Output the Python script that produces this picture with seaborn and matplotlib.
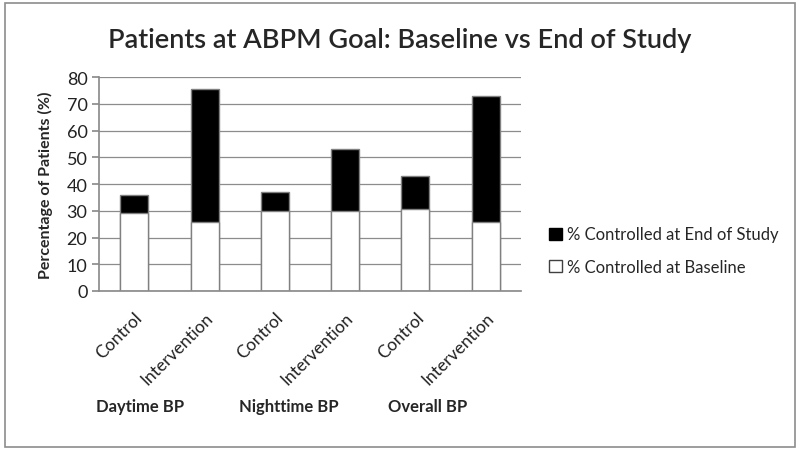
import matplotlib
matplotlib.use("Agg")
import matplotlib.pyplot as plt
import seaborn as sns
import pandas as pd
from matplotlib.patches import Rectangle, Patch
from matplotlib.ticker import MultipleLocator, FixedLocator

categories = ["Control", "Intervention", "Control", "Intervention", "Control", "Intervention"]
groups = ["Daytime BP", "Nighttime BP", "Overall BP"]
baseline = [29, 26, 30, 30, 30.5, 26]
end_study = [36, 75.5, 37, 53, 43, 73]

sns.set_theme(style="white")
plt.rcParams['font.family'] = ['Lato', 'DejaVu Sans']

df = pd.DataFrame({"pos": list(range(len(categories))), "cat": categories,
                   "baseline": baseline, "end": end_study})

fig = plt.figure(figsize=(8, 4.52), dpi=100)
ax = fig.add_axes([0.124, 0.354, 0.527, 0.473])

sns.barplot(data=df, x="pos", y="end", color="black", edgecolor="#808080",
            linewidth=1.0, width=0.4, ax=ax, saturation=1)
sns.barplot(data=df, x="pos", y="baseline", color="white", edgecolor="#808080",
            linewidth=1.0, width=0.4, ax=ax, saturation=1)

ax.set_ylim(0, 80)
ax.set_xlim(-0.5, len(categories) - 0.5)
ax.yaxis.set_major_locator(MultipleLocator(10))
ax.yaxis.grid(True, color="#8c8c8c", linewidth=0.9)
ax.set_axisbelow(True)
for s in ["top", "right"]:
    ax.spines[s].set_visible(False)
ax.spines["left"].set_color("#8c8c8c")
ax.spines["bottom"].set_color("#8c8c8c")

ax.set_xticks(range(len(categories)))
ax.set_xticklabels(categories, rotation=45, ha="right", rotation_mode="anchor",
                   fontsize=12.5, color="#222222")
ax.tick_params(axis="x", which="major", length=0, pad=13)
ax.xaxis.set_minor_locator(FixedLocator([i - 0.5 for i in range(len(categories) + 1)]))
ax.tick_params(axis="x", which="minor", length=5, color="#8c8c8c", direction="out")
ax.tick_params(axis="y", length=5, color="#8c8c8c", labelsize=13, labelcolor="#222222", left=True)
ax.set_xlabel("")
ax.set_ylabel("Percentage of Patients (%)", fontsize=11.5, fontweight="bold", labelpad=10)

group_x = [-0.54, 1.49, 3.61]
for gx, g in zip(group_x, groups):
    ax.text(gx, -0.54, g, transform=ax.get_xaxis_transform(), ha="left", va="center",
            fontsize=12, fontweight="bold")

fig.text(0.5, 0.91, "Patients at ABPM Goal: Baseline vs End of Study", ha="center",
         va="center", fontsize=19.5, fontweight="semibold")

handles = [Patch(facecolor="black", edgecolor="black", label="% Controlled at End of Study"),
           Patch(facecolor="white", edgecolor="#404040", label="% Controlled at Baseline")]
fig.legend(handles=handles, loc="center left", bbox_to_anchor=(0.668, 0.443), frameon=False,
           fontsize=12, handlelength=0.75, handleheight=0.75, handletextpad=0.3,
           labelspacing=1.0)

fig.patches.append(Rectangle((0.006, 0.008), 0.988, 0.984, transform=fig.transFigure,
                             fill=False, edgecolor="#8c8c8c", linewidth=1.2))

fig.savefig("out.png", dpi=100)
